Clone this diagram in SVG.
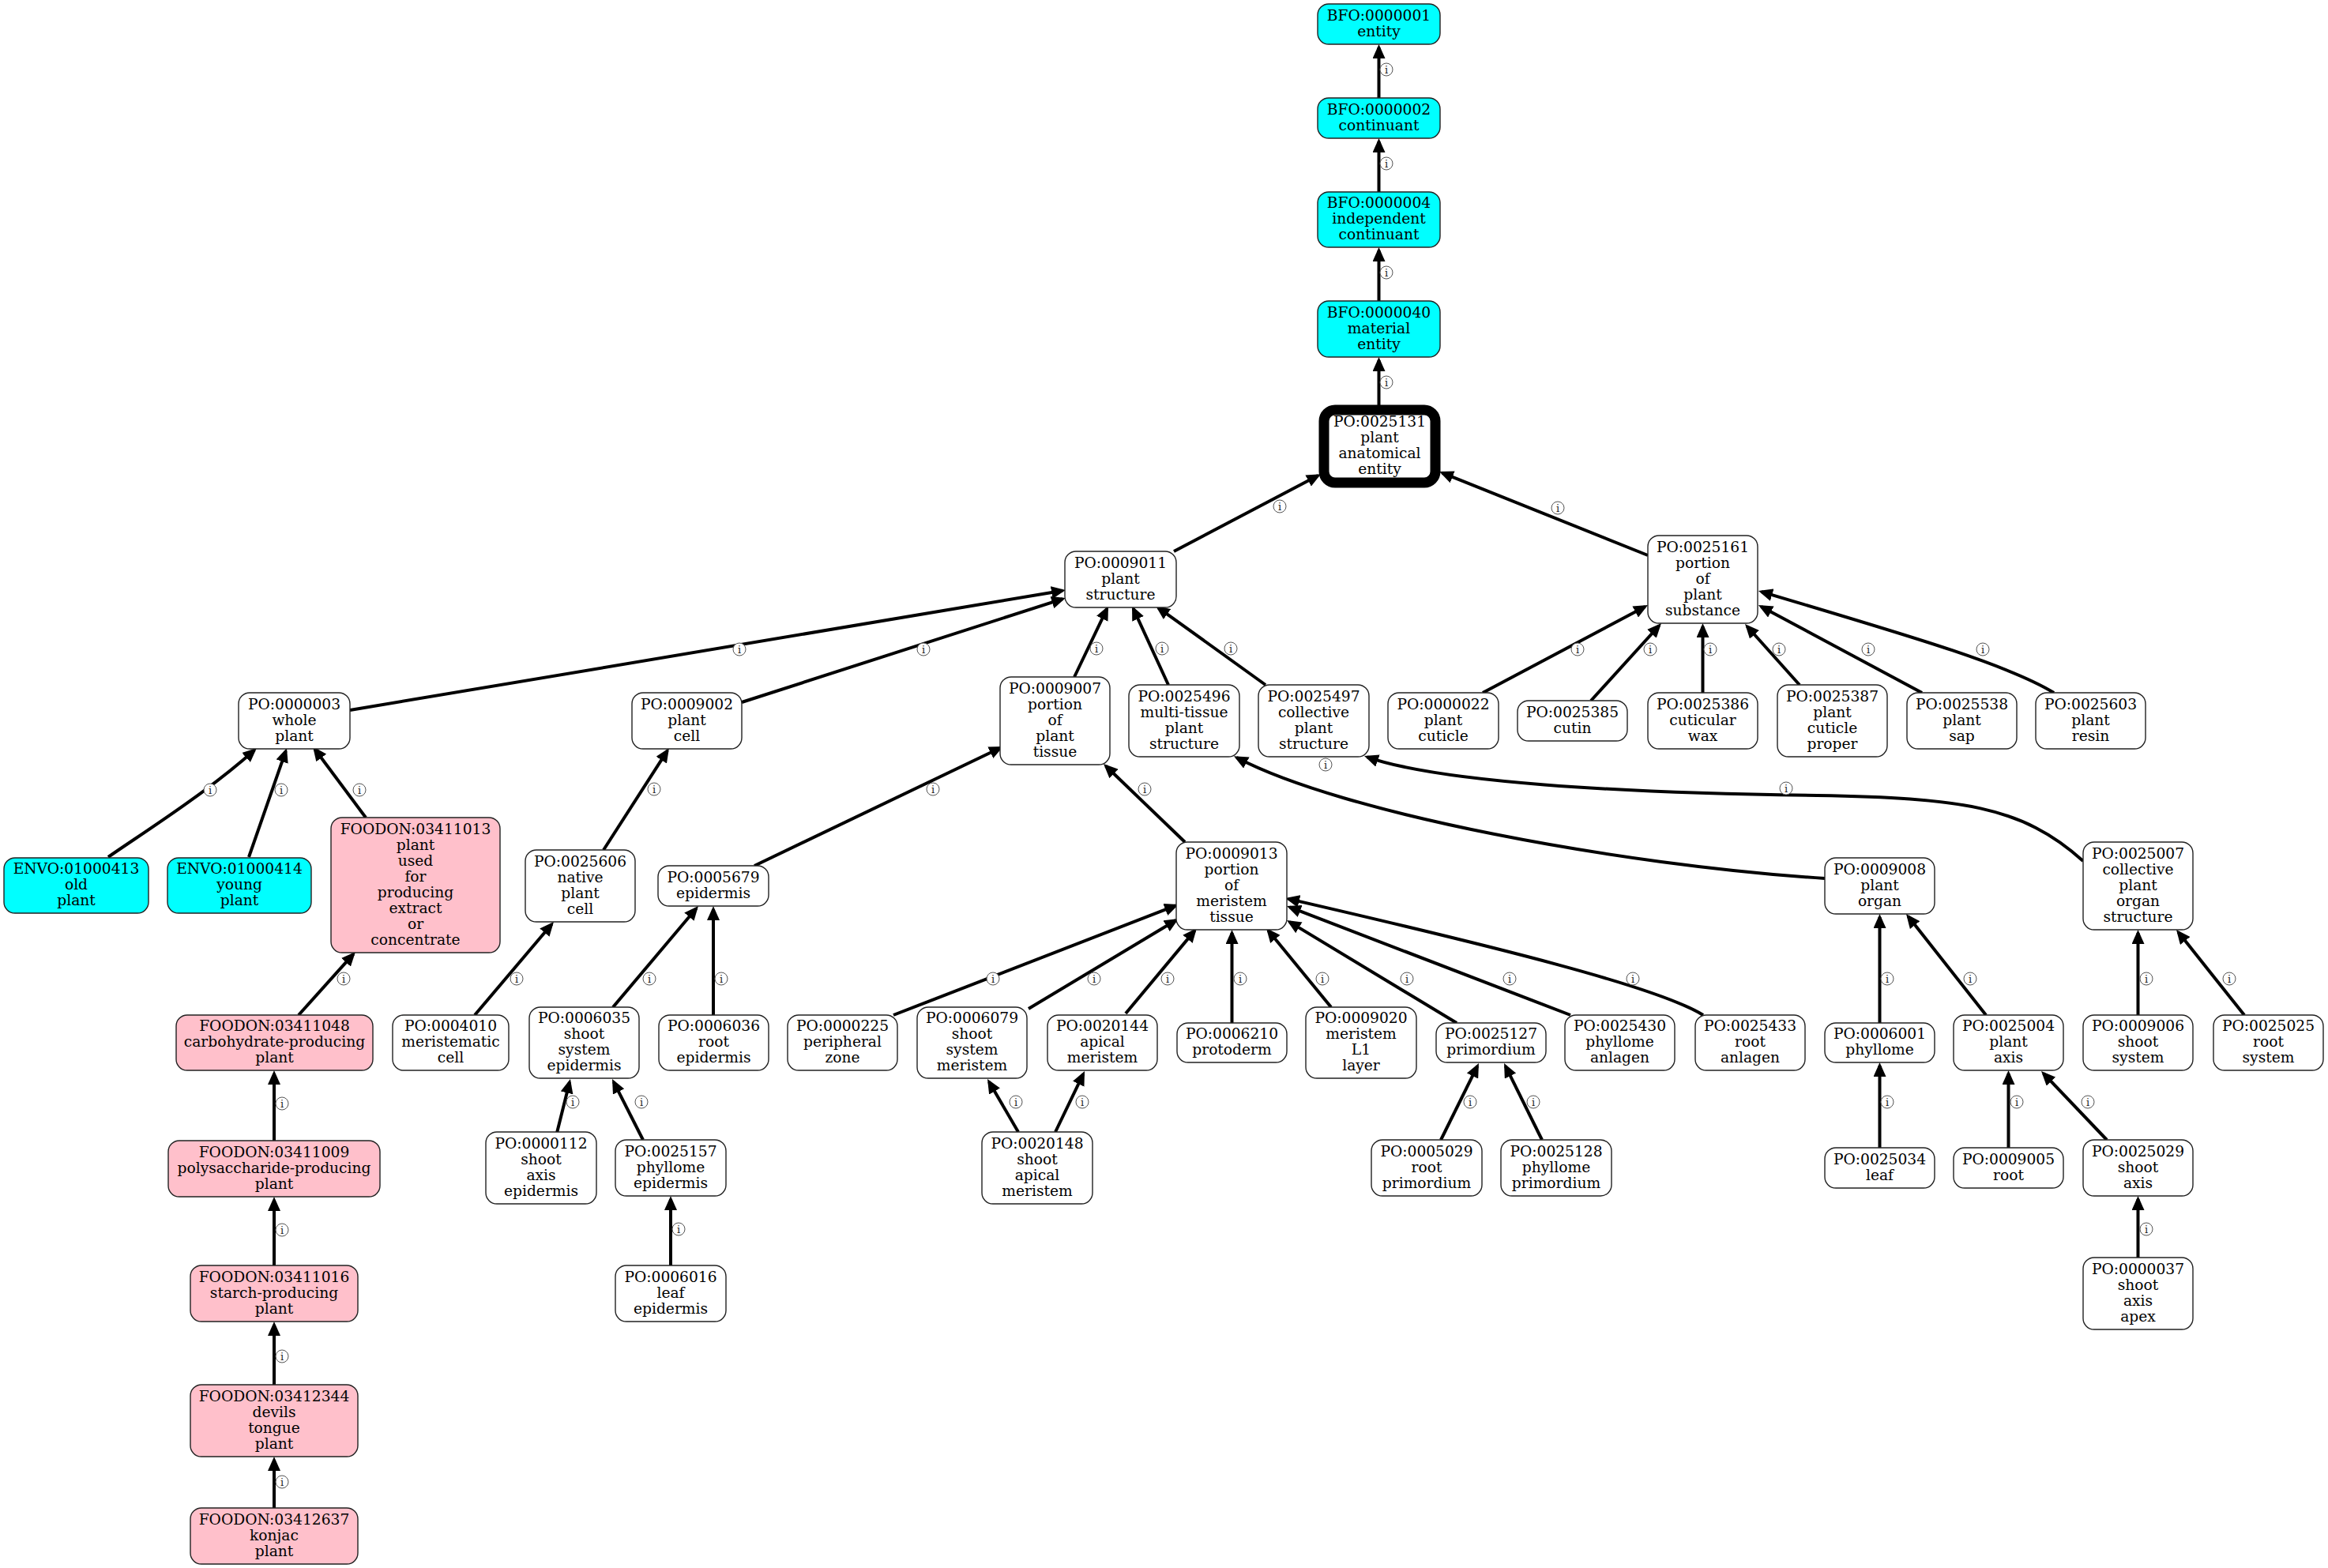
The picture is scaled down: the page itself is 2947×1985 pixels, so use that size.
<svg xmlns="http://www.w3.org/2000/svg" width="2947" height="1985" viewBox="0 0 2947 1985">
<style>
  .n rect { stroke: #222; stroke-width: 1.4; rx: 14; ry: 14; }
  .w rect { fill: #ffffff; }
  .c rect { fill: #00ffff; }
  .p rect { fill: #ffc0cb; }
  .n text { font-family: "DejaVu Serif", "Liberation Serif", serif; font-size: 18.67px; text-anchor: middle; fill: #000; }
  #edges path { fill: none; stroke: #000; stroke-width: 4; }
  #edges circle { fill: #fff; stroke: #555; stroke-width: 1; }
  #edges text { font-family: "DejaVu Serif", "Liberation Serif", serif; font-size: 13px; text-anchor: middle; fill: #222; }
</style>
<defs>
  <marker id="arr" markerUnits="userSpaceOnUse" markerWidth="18" markerHeight="16" refX="14" refY="8" orient="auto">
    <path d="M0,0 L18,8 L0,16 z" fill="#000"/>
  </marker>
</defs>
<rect width="2947" height="1985" fill="#fff"/>

<!-- connectors: child to parent, arrowhead at parent -->
<g id="edges">
  <path marker-end="url(#arr)" d="M1745.5,124 L1745.5,60"/>
  <path marker-end="url(#arr)" d="M1745.5,243 L1745.5,179"/>
  <path marker-end="url(#arr)" d="M1745.5,381 L1745.5,317"/>
  <path marker-end="url(#arr)" d="M1745.5,513 L1745.5,456"/>
  <path marker-end="url(#arr)" d="M1486,698 L1668.5,602"/>
  <path marker-end="url(#arr)" d="M2086,703 L1825.7,598.6"/>
  <path marker-end="url(#arr)" d="M443,899 L1345,747.7"/>
  <path marker-end="url(#arr)" d="M939,889 L1345.2,758.2"/>
  <path marker-end="url(#arr)" d="M1360,857 L1401.3,770.6"/>
  <path marker-end="url(#arr)" d="M1479,867 L1434.7,770.6"/>
  <path marker-end="url(#arr)" d="M1602,867 L1466.2,769.3"/>
  <path marker-end="url(#arr)" d="M1877,877 L2082.5,767.9"/>
  <path marker-end="url(#arr)" d="M2014,887 L2100.3,792"/>
  <path marker-end="url(#arr)" d="M2155.5,877 L2155.5,793"/>
  <path marker-end="url(#arr)" d="M2278,867 L2211.7,793"/>
  <path marker-end="url(#arr)" d="M2433,877 L2229.5,767.9"/>
  <path marker-end="url(#arr)" d="M2600,877 C2540,840 2400,800 2229.8,749.1"/>
  <path marker-end="url(#arr)" d="M137,1085 C180,1055 260,1005 322,949.7"/>
  <path marker-end="url(#arr)" d="M315,1085 L361.7,950.8"/>
  <path marker-end="url(#arr)" d="M463,1035 L398.4,948.2"/>
  <path marker-end="url(#arr)" d="M764,1076 L844.8,950.4"/>
  <path marker-end="url(#arr)" d="M955,1096 L1266.4,946.7"/>
  <path marker-end="url(#arr)" d="M1500,1066 L1399.9,969.8"/>
  <path marker-end="url(#arr)" d="M2310,1112 C2050,1095 1700,1030 1565.5,959"/>
  <path marker-end="url(#arr)" d="M2637,1090 C2560,1020 2480,1010 2300,1007 C2050,1004 1820,990 1730.8,958.3"/>
  <path marker-end="url(#arr)" d="M378,1285 L447.3,1207.9"/>
  <path marker-end="url(#arr)" d="M601,1285 L698.4,1170"/>
  <path marker-end="url(#arr)" d="M776,1275 L881.4,1150"/>
  <path marker-end="url(#arr)" d="M903,1285 L903,1151"/>
  <path marker-end="url(#arr)" d="M1131,1285 L1488.3,1146.4"/>
  <path marker-end="url(#arr)" d="M1302,1277 L1488.6,1165"/>
  <path marker-end="url(#arr)" d="M1425,1283 L1512.4,1178.1"/>
  <path marker-end="url(#arr)" d="M1559.5,1295 L1559.5,1181"/>
  <path marker-end="url(#arr)" d="M1685,1275 L1605.5,1178.1"/>
  <path marker-end="url(#arr)" d="M1844,1295 L1632.4,1167.1"/>
  <path marker-end="url(#arr)" d="M1988,1285 L1632.7,1148.4"/>
  <path marker-end="url(#arr)" d="M2156,1285 C2100,1250 1900,1200 1630.9,1137.9"/>
  <path marker-end="url(#arr)" d="M2379.5,1295 L2379.5,1161"/>
  <path marker-end="url(#arr)" d="M2514,1285 L2415.5,1160.1"/>
  <path marker-end="url(#arr)" d="M2706.5,1285 L2706.5,1181"/>
  <path marker-end="url(#arr)" d="M2841,1285 L2757.5,1180.1"/>
  <path marker-end="url(#arr)" d="M347,1444 L347,1359"/>
  <path marker-end="url(#arr)" d="M705,1434 L721,1369.9"/>
  <path marker-end="url(#arr)" d="M814,1443 L776.8,1369.6"/>
  <path marker-end="url(#arr)" d="M1289,1433 L1252,1369.5"/>
  <path marker-end="url(#arr)" d="M1336,1433 L1371.3,1359.6"/>
  <path marker-end="url(#arr)" d="M1824,1443 L1870.2,1349.6"/>
  <path marker-end="url(#arr)" d="M1952,1443 L1905.8,1349.6"/>
  <path marker-end="url(#arr)" d="M2379.5,1453 L2379.5,1349"/>
  <path marker-end="url(#arr)" d="M2542.5,1453 L2542.5,1359"/>
  <path marker-end="url(#arr)" d="M2667,1443 L2586.8,1358.9"/>
  <path marker-end="url(#arr)" d="M347,1602 L347,1519"/>
  <path marker-end="url(#arr)" d="M849,1602 L849,1518"/>
  <path marker-end="url(#arr)" d="M2706.5,1592 L2706.5,1518"/>
  <path marker-end="url(#arr)" d="M347,1753 L347,1677"/>
  <path marker-end="url(#arr)" d="M347,1909 L347,1848"/>

  <!-- edge labels: circled "i" -->
  <circle cx="1755" cy="88" r="8"/><text x="1755" y="93">i</text>
  <circle cx="1755" cy="207" r="8"/><text x="1755" y="212">i</text>
  <circle cx="1755" cy="345" r="8"/><text x="1755" y="350">i</text>
  <circle cx="1755" cy="484" r="8"/><text x="1755" y="489">i</text>
  <circle cx="1620" cy="641" r="8"/><text x="1620" y="646">i</text>
  <circle cx="1972" cy="643" r="8"/><text x="1972" y="648">i</text>
  <circle cx="936" cy="822" r="8"/><text x="936" y="827">i</text>
  <circle cx="1169" cy="822" r="8"/><text x="1169" y="827">i</text>
  <circle cx="1388" cy="821" r="8"/><text x="1388" y="826">i</text>
  <circle cx="1471" cy="821" r="8"/><text x="1471" y="826">i</text>
  <circle cx="1558" cy="821" r="8"/><text x="1558" y="826">i</text>
  <circle cx="1997" cy="822" r="8"/><text x="1997" y="827">i</text>
  <circle cx="2089" cy="822" r="8"/><text x="2089" y="827">i</text>
  <circle cx="2165" cy="822" r="8"/><text x="2165" y="827">i</text>
  <circle cx="2252" cy="822" r="8"/><text x="2252" y="827">i</text>
  <circle cx="2365" cy="822" r="8"/><text x="2365" y="827">i</text>
  <circle cx="2510" cy="822" r="8"/><text x="2510" y="827">i</text>
  <circle cx="266" cy="1000" r="8"/><text x="266" y="1005">i</text>
  <circle cx="356" cy="1000" r="8"/><text x="356" y="1005">i</text>
  <circle cx="455" cy="1000" r="8"/><text x="455" y="1005">i</text>
  <circle cx="828" cy="999" r="8"/><text x="828" y="1004">i</text>
  <circle cx="1181" cy="999" r="8"/><text x="1181" y="1004">i</text>
  <circle cx="1449" cy="999" r="8"/><text x="1449" y="1004">i</text>
  <circle cx="1678" cy="968" r="8"/><text x="1678" y="973">i</text>
  <circle cx="2261" cy="998" r="8"/><text x="2261" y="1003">i</text>
  <circle cx="435" cy="1239" r="8"/><text x="435" y="1244">i</text>
  <circle cx="654" cy="1239" r="8"/><text x="654" y="1244">i</text>
  <circle cx="822" cy="1239" r="8"/><text x="822" y="1244">i</text>
  <circle cx="913" cy="1239" r="8"/><text x="913" y="1244">i</text>
  <circle cx="1257" cy="1239" r="8"/><text x="1257" y="1244">i</text>
  <circle cx="1385" cy="1239" r="8"/><text x="1385" y="1244">i</text>
  <circle cx="1478" cy="1239" r="8"/><text x="1478" y="1244">i</text>
  <circle cx="1570" cy="1239" r="8"/><text x="1570" y="1244">i</text>
  <circle cx="1674" cy="1239" r="8"/><text x="1674" y="1244">i</text>
  <circle cx="1781" cy="1239" r="8"/><text x="1781" y="1244">i</text>
  <circle cx="1911" cy="1239" r="8"/><text x="1911" y="1244">i</text>
  <circle cx="2067" cy="1239" r="8"/><text x="2067" y="1244">i</text>
  <circle cx="2389" cy="1239" r="8"/><text x="2389" y="1244">i</text>
  <circle cx="2494" cy="1239" r="8"/><text x="2494" y="1244">i</text>
  <circle cx="2717" cy="1239" r="8"/><text x="2717" y="1244">i</text>
  <circle cx="2822" cy="1239" r="8"/><text x="2822" y="1244">i</text>
  <circle cx="357" cy="1397" r="8"/><text x="357" y="1402">i</text>
  <circle cx="725" cy="1395" r="8"/><text x="725" y="1400">i</text>
  <circle cx="812" cy="1395" r="8"/><text x="812" y="1400">i</text>
  <circle cx="1286" cy="1395" r="8"/><text x="1286" y="1400">i</text>
  <circle cx="1370" cy="1395" r="8"/><text x="1370" y="1400">i</text>
  <circle cx="1861" cy="1395" r="8"/><text x="1861" y="1400">i</text>
  <circle cx="1941" cy="1395" r="8"/><text x="1941" y="1400">i</text>
  <circle cx="2389" cy="1395" r="8"/><text x="2389" y="1400">i</text>
  <circle cx="2553" cy="1395" r="8"/><text x="2553" y="1400">i</text>
  <circle cx="2643" cy="1395" r="8"/><text x="2643" y="1400">i</text>
  <circle cx="357" cy="1557" r="8"/><text x="357" y="1562">i</text>
  <circle cx="859" cy="1556" r="8"/><text x="859" y="1561">i</text>
  <circle cx="2717" cy="1556" r="8"/><text x="2717" y="1561">i</text>
  <circle cx="357" cy="1717" r="8"/><text x="357" y="1722">i</text>
  <circle cx="357" cy="1876" r="8"/><text x="357" y="1881">i</text>
</g>

<!-- nodes -->
<g id="BFO_0000001" class="n c"><rect x="1668" y="5" width="155" height="51"/><text y="25.5"><tspan x="1745.5">BFO:0000001</tspan><tspan x="1745.5" dy="20">entity</tspan></text></g>
<g id="BFO_0000002" class="n c"><rect x="1668" y="124" width="155" height="51"/><text y="144.5"><tspan x="1745.5">BFO:0000002</tspan><tspan x="1745.5" dy="20">continuant</tspan></text></g>
<g id="BFO_0000004" class="n c"><rect x="1668" y="243" width="155" height="70"/><text y="263"><tspan x="1745.5">BFO:0000004</tspan><tspan x="1745.5" dy="20">independent</tspan><tspan x="1745.5" dy="20">continuant</tspan></text></g>
<g id="BFO_0000040" class="n c"><rect x="1668" y="381" width="155" height="71"/><text y="401.5"><tspan x="1745.5">BFO:0000040</tspan><tspan x="1745.5" dy="20">material</tspan><tspan x="1745.5" dy="20">entity</tspan></text></g>
<g id="PO_0025131" class="n w"><rect x="1676" y="519" width="141" height="92" style="stroke:#000;stroke-width:13"/><text y="540"><tspan x="1746.5">PO:0025131</tspan><tspan x="1746.5" dy="20">plant</tspan><tspan x="1746.5" dy="20">anatomical</tspan><tspan x="1746.5" dy="20">entity</tspan></text></g>

<g id="PO_0009011" class="n w"><rect x="1348" y="698" width="141" height="71"/><text y="718.5"><tspan x="1418.5">PO:0009011</tspan><tspan x="1418.5" dy="20">plant</tspan><tspan x="1418.5" dy="20">structure</tspan></text></g>
<g id="PO_0025161" class="n w"><rect x="2086" y="678" width="139" height="111"/><text y="698.5"><tspan x="2155.5">PO:0025161</tspan><tspan x="2155.5" dy="20">portion</tspan><tspan x="2155.5" dy="20">of</tspan><tspan x="2155.5" dy="20">plant</tspan><tspan x="2155.5" dy="20">substance</tspan></text></g>

<g id="PO_0000003" class="n w"><rect x="302" y="877" width="141" height="71"/><text y="897.5"><tspan x="372.5">PO:0000003</tspan><tspan x="372.5" dy="20">whole</tspan><tspan x="372.5" dy="20">plant</tspan></text></g>
<g id="PO_0009002" class="n w"><rect x="800" y="877" width="139" height="71"/><text y="897.5"><tspan x="869.5">PO:0009002</tspan><tspan x="869.5" dy="20">plant</tspan><tspan x="869.5" dy="20">cell</tspan></text></g>
<g id="PO_0009007" class="n w"><rect x="1266" y="857" width="139" height="111"/><text y="877.5"><tspan x="1335.5">PO:0009007</tspan><tspan x="1335.5" dy="20">portion</tspan><tspan x="1335.5" dy="20">of</tspan><tspan x="1335.5" dy="20">plant</tspan><tspan x="1335.5" dy="20">tissue</tspan></text></g>
<g id="PO_0025496" class="n w"><rect x="1429" y="867" width="140" height="91"/><text y="887.5"><tspan x="1499">PO:0025496</tspan><tspan x="1499" dy="20">multi-tissue</tspan><tspan x="1499" dy="20">plant</tspan><tspan x="1499" dy="20">structure</tspan></text></g>
<g id="PO_0025497" class="n w"><rect x="1593" y="867" width="140" height="91"/><text y="887.5"><tspan x="1663">PO:0025497</tspan><tspan x="1663" dy="20">collective</tspan><tspan x="1663" dy="20">plant</tspan><tspan x="1663" dy="20">structure</tspan></text></g>
<g id="PO_0000022" class="n w"><rect x="1757" y="877" width="140" height="71"/><text y="897.5"><tspan x="1827">PO:0000022</tspan><tspan x="1827" dy="20">plant</tspan><tspan x="1827" dy="20">cuticle</tspan></text></g>
<g id="PO_0025385" class="n w"><rect x="1921" y="887" width="139" height="51"/><text y="907.5"><tspan x="1990.5">PO:0025385</tspan><tspan x="1990.5" dy="20">cutin</tspan></text></g>
<g id="PO_0025386" class="n w"><rect x="2086" y="877" width="139" height="71"/><text y="897.5"><tspan x="2155.5">PO:0025386</tspan><tspan x="2155.5" dy="20">cuticular</tspan><tspan x="2155.5" dy="20">wax</tspan></text></g>
<g id="PO_0025387" class="n w"><rect x="2250" y="867" width="139" height="91"/><text y="887.5"><tspan x="2319.5">PO:0025387</tspan><tspan x="2319.5" dy="20">plant</tspan><tspan x="2319.5" dy="20">cuticle</tspan><tspan x="2319.5" dy="20">proper</tspan></text></g>
<g id="PO_0025538" class="n w"><rect x="2414" y="877" width="139" height="71"/><text y="897.5"><tspan x="2483.5">PO:0025538</tspan><tspan x="2483.5" dy="20">plant</tspan><tspan x="2483.5" dy="20">sap</tspan></text></g>
<g id="PO_0025603" class="n w"><rect x="2577" y="877" width="139" height="71"/><text y="897.5"><tspan x="2646.5">PO:0025603</tspan><tspan x="2646.5" dy="20">plant</tspan><tspan x="2646.5" dy="20">resin</tspan></text></g>

<g id="ENVO_01000413" class="n c"><rect x="5" y="1086" width="183" height="70"/><text y="1106"><tspan x="96.5">ENVO:01000413</tspan><tspan x="96.5" dy="20">old</tspan><tspan x="96.5" dy="20">plant</tspan></text></g>
<g id="ENVO_01000414" class="n c"><rect x="212" y="1086" width="182" height="70"/><text y="1106"><tspan x="303">ENVO:01000414</tspan><tspan x="303" dy="20">young</tspan><tspan x="303" dy="20">plant</tspan></text></g>
<g id="FOODON_03411013" class="n p"><rect x="419" y="1035" width="214" height="171"/><text y="1055.5"><tspan x="526">FOODON:03411013</tspan><tspan x="526" dy="20">plant</tspan><tspan x="526" dy="20">used</tspan><tspan x="526" dy="20">for</tspan><tspan x="526" dy="20">producing</tspan><tspan x="526" dy="20">extract</tspan><tspan x="526" dy="20">or</tspan><tspan x="526" dy="20">concentrate</tspan></text></g>
<g id="PO_0025606" class="n w"><rect x="665" y="1076" width="139" height="91"/><text y="1096.5"><tspan x="734.5">PO:0025606</tspan><tspan x="734.5" dy="20">native</tspan><tspan x="734.5" dy="20">plant</tspan><tspan x="734.5" dy="20">cell</tspan></text></g>
<g id="PO_0005679" class="n w"><rect x="833" y="1096" width="140" height="51"/><text y="1116.5"><tspan x="903">PO:0005679</tspan><tspan x="903" dy="20">epidermis</tspan></text></g>
<g id="PO_0009013" class="n w"><rect x="1489" y="1066" width="140" height="111"/><text y="1086.5"><tspan x="1559">PO:0009013</tspan><tspan x="1559" dy="20">portion</tspan><tspan x="1559" dy="20">of</tspan><tspan x="1559" dy="20">meristem</tspan><tspan x="1559" dy="20">tissue</tspan></text></g>
<g id="PO_0009008" class="n w"><rect x="2310" y="1086" width="139" height="71"/><text y="1106.5"><tspan x="2379.5">PO:0009008</tspan><tspan x="2379.5" dy="20">plant</tspan><tspan x="2379.5" dy="20">organ</tspan></text></g>
<g id="PO_0025007" class="n w"><rect x="2637" y="1066" width="139" height="111"/><text y="1086.5"><tspan x="2706.5">PO:0025007</tspan><tspan x="2706.5" dy="20">collective</tspan><tspan x="2706.5" dy="20">plant</tspan><tspan x="2706.5" dy="20">organ</tspan><tspan x="2706.5" dy="20">structure</tspan></text></g>

<g id="FOODON_03411048" class="n p"><rect x="223" y="1285" width="249" height="70"/><text y="1305"><tspan x="347.5">FOODON:03411048</tspan><tspan x="347.5" dy="20">carbohydrate-producing</tspan><tspan x="347.5" dy="20">plant</tspan></text></g>
<g id="PO_0004010" class="n w"><rect x="497" y="1285" width="147" height="70"/><text y="1305"><tspan x="570.5">PO:0004010</tspan><tspan x="570.5" dy="20">meristematic</tspan><tspan x="570.5" dy="20">cell</tspan></text></g>
<g id="PO_0006035" class="n w"><rect x="670" y="1275" width="139" height="90"/><text y="1295"><tspan x="739.5">PO:0006035</tspan><tspan x="739.5" dy="20">shoot</tspan><tspan x="739.5" dy="20">system</tspan><tspan x="739.5" dy="20">epidermis</tspan></text></g>
<g id="PO_0006036" class="n w"><rect x="834" y="1285" width="139" height="70"/><text y="1305"><tspan x="903.5">PO:0006036</tspan><tspan x="903.5" dy="20">root</tspan><tspan x="903.5" dy="20">epidermis</tspan></text></g>
<g id="PO_0000225" class="n w"><rect x="997" y="1285" width="139" height="70"/><text y="1305"><tspan x="1066.5">PO:0000225</tspan><tspan x="1066.5" dy="20">peripheral</tspan><tspan x="1066.5" dy="20">zone</tspan></text></g>
<g id="PO_0006079" class="n w"><rect x="1161" y="1275" width="139" height="90"/><text y="1295"><tspan x="1230.5">PO:0006079</tspan><tspan x="1230.5" dy="20">shoot</tspan><tspan x="1230.5" dy="20">system</tspan><tspan x="1230.5" dy="20">meristem</tspan></text></g>
<g id="PO_0020144" class="n w"><rect x="1326" y="1285" width="139" height="70"/><text y="1305"><tspan x="1395.5">PO:0020144</tspan><tspan x="1395.5" dy="20">apical</tspan><tspan x="1395.5" dy="20">meristem</tspan></text></g>
<g id="PO_0006210" class="n w"><rect x="1490" y="1295" width="139" height="50"/><text y="1315"><tspan x="1559.5">PO:0006210</tspan><tspan x="1559.5" dy="20">protoderm</tspan></text></g>
<g id="PO_0009020" class="n w"><rect x="1653" y="1275" width="140" height="90"/><text y="1295"><tspan x="1723">PO:0009020</tspan><tspan x="1723" dy="20">meristem</tspan><tspan x="1723" dy="20">L1</tspan><tspan x="1723" dy="20">layer</tspan></text></g>
<g id="PO_0025127" class="n w"><rect x="1818" y="1295" width="139" height="50"/><text y="1315"><tspan x="1887.5">PO:0025127</tspan><tspan x="1887.5" dy="20">primordium</tspan></text></g>
<g id="PO_0025430" class="n w"><rect x="1981" y="1285" width="139" height="70"/><text y="1305"><tspan x="2050.5">PO:0025430</tspan><tspan x="2050.5" dy="20">phyllome</tspan><tspan x="2050.5" dy="20">anlagen</tspan></text></g>
<g id="PO_0025433" class="n w"><rect x="2146" y="1285" width="139" height="70"/><text y="1305"><tspan x="2215.5">PO:0025433</tspan><tspan x="2215.5" dy="20">root</tspan><tspan x="2215.5" dy="20">anlagen</tspan></text></g>
<g id="PO_0006001" class="n w"><rect x="2310" y="1295" width="139" height="50"/><text y="1315"><tspan x="2379.5">PO:0006001</tspan><tspan x="2379.5" dy="20">phyllome</tspan></text></g>
<g id="PO_0025004" class="n w"><rect x="2473" y="1285" width="139" height="70"/><text y="1305"><tspan x="2542.5">PO:0025004</tspan><tspan x="2542.5" dy="20">plant</tspan><tspan x="2542.5" dy="20">axis</tspan></text></g>
<g id="PO_0009006" class="n w"><rect x="2637" y="1285" width="139" height="70"/><text y="1305"><tspan x="2706.5">PO:0009006</tspan><tspan x="2706.5" dy="20">shoot</tspan><tspan x="2706.5" dy="20">system</tspan></text></g>
<g id="PO_0025025" class="n w"><rect x="2802" y="1285" width="139" height="70"/><text y="1305"><tspan x="2871.5">PO:0025025</tspan><tspan x="2871.5" dy="20">root</tspan><tspan x="2871.5" dy="20">system</tspan></text></g>

<g id="FOODON_03411009" class="n p"><rect x="213" y="1444" width="268" height="71"/><text y="1464.5"><tspan x="347">FOODON:03411009</tspan><tspan x="347" dy="20">polysaccharide-producing</tspan><tspan x="347" dy="20">plant</tspan></text></g>
<g id="PO_0000112" class="n w"><rect x="615" y="1433" width="140" height="91"/><text y="1453.5"><tspan x="685">PO:0000112</tspan><tspan x="685" dy="20">shoot</tspan><tspan x="685" dy="20">axis</tspan><tspan x="685" dy="20">epidermis</tspan></text></g>
<g id="PO_0025157" class="n w"><rect x="779" y="1443" width="140" height="71"/><text y="1463.5"><tspan x="849">PO:0025157</tspan><tspan x="849" dy="20">phyllome</tspan><tspan x="849" dy="20">epidermis</tspan></text></g>
<g id="PO_0020148" class="n w"><rect x="1243" y="1433" width="140" height="91"/><text y="1453.5"><tspan x="1313">PO:0020148</tspan><tspan x="1313" dy="20">shoot</tspan><tspan x="1313" dy="20">apical</tspan><tspan x="1313" dy="20">meristem</tspan></text></g>
<g id="PO_0005029" class="n w"><rect x="1736" y="1443" width="140" height="71"/><text y="1463.5"><tspan x="1806">PO:0005029</tspan><tspan x="1806" dy="20">root</tspan><tspan x="1806" dy="20">primordium</tspan></text></g>
<g id="PO_0025128" class="n w"><rect x="1900" y="1443" width="140" height="71"/><text y="1463.5"><tspan x="1970">PO:0025128</tspan><tspan x="1970" dy="20">phyllome</tspan><tspan x="1970" dy="20">primordium</tspan></text></g>
<g id="PO_0025034" class="n w"><rect x="2310" y="1453" width="139" height="51"/><text y="1473.5"><tspan x="2379.5">PO:0025034</tspan><tspan x="2379.5" dy="20">leaf</tspan></text></g>
<g id="PO_0009005" class="n w"><rect x="2473" y="1453" width="139" height="51"/><text y="1473.5"><tspan x="2542.5">PO:0009005</tspan><tspan x="2542.5" dy="20">root</tspan></text></g>
<g id="PO_0025029" class="n w"><rect x="2637" y="1443" width="139" height="71"/><text y="1463.5"><tspan x="2706.5">PO:0025029</tspan><tspan x="2706.5" dy="20">shoot</tspan><tspan x="2706.5" dy="20">axis</tspan></text></g>

<g id="FOODON_03411016" class="n p"><rect x="241" y="1602" width="212" height="71"/><text y="1622.5"><tspan x="347">FOODON:03411016</tspan><tspan x="347" dy="20">starch-producing</tspan><tspan x="347" dy="20">plant</tspan></text></g>
<g id="PO_0006016" class="n w"><rect x="779" y="1602" width="140" height="71"/><text y="1622.5"><tspan x="849">PO:0006016</tspan><tspan x="849" dy="20">leaf</tspan><tspan x="849" dy="20">epidermis</tspan></text></g>
<g id="PO_0000037" class="n w"><rect x="2637" y="1592" width="139" height="91"/><text y="1612.5"><tspan x="2706.5">PO:0000037</tspan><tspan x="2706.5" dy="20">shoot</tspan><tspan x="2706.5" dy="20">axis</tspan><tspan x="2706.5" dy="20">apex</tspan></text></g>

<g id="FOODON_03412344" class="n p"><rect x="241" y="1753" width="212" height="91"/><text y="1773.5"><tspan x="347">FOODON:03412344</tspan><tspan x="347" dy="20">devils</tspan><tspan x="347" dy="20">tongue</tspan><tspan x="347" dy="20">plant</tspan></text></g>
<g id="FOODON_03412637" class="n p"><rect x="241" y="1909" width="212" height="71"/><text y="1929.5"><tspan x="347">FOODON:03412637</tspan><tspan x="347" dy="20">konjac</tspan><tspan x="347" dy="20">plant</tspan></text></g>
</svg>
